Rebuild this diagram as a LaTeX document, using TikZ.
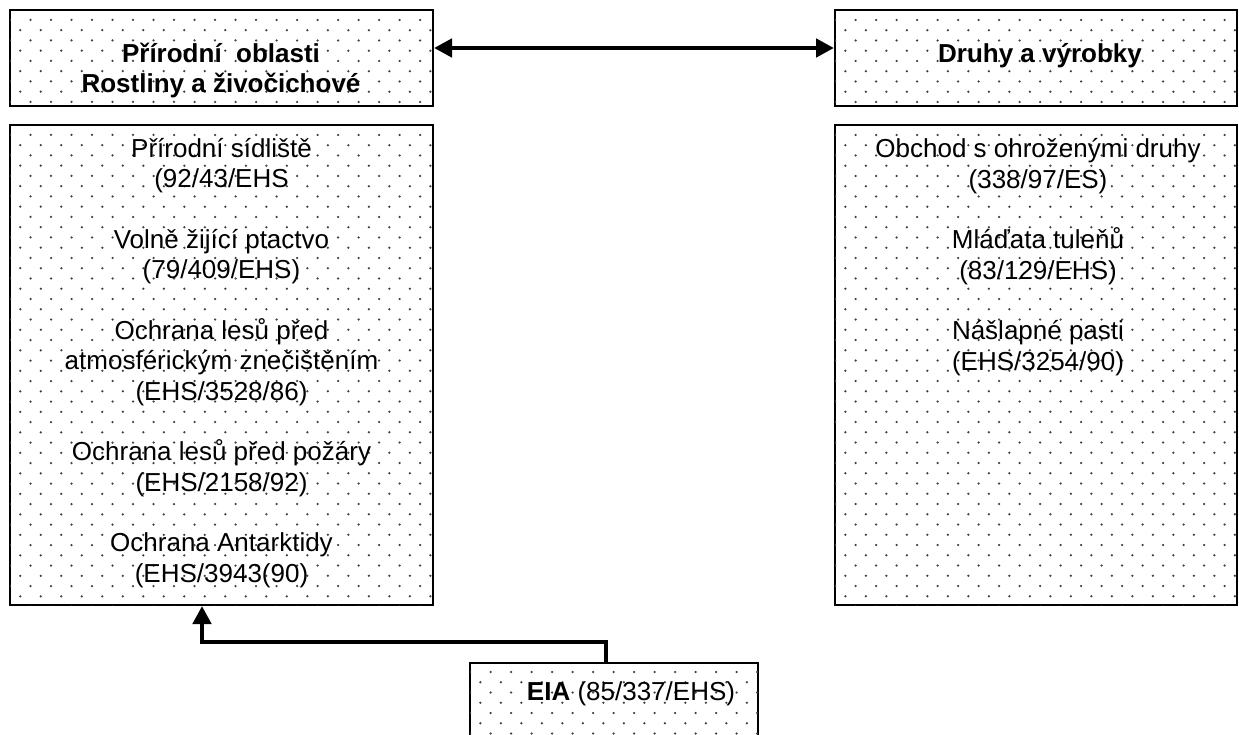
\documentclass[tikz,border=0pt]{standalone}
\usepackage{fontspec}
\setmainfont{Liberation Sans}
\usetikzlibrary{arrows.meta}

\definecolor{dotcol}{gray}{0.25}

\tikzset{
  frame/.style={draw=black, line width=2pt, inner sep=0pt, fill=white},
  link/.style={line width=4.5pt, -{Triangle[length=18pt,width=18pt]}},
  twoway/.style={line width=4.5pt, {Triangle[length=18pt,width=18pt]}-{Triangle[length=18pt,width=18pt]}},
  % multi-line texts are placed by the baseline of their last line
  body/.style={font=\fontsize{26}{30.5}\selectfont, align=center, inner sep=0pt, anchor=base},
  head/.style={font=\fontsize{26}{30}\selectfont\bfseries, align=center, inner sep=0pt, anchor=base},
}

% staggered dot raster inside a box: #1 = node name, #2..#5 = left, top, right, bottom
\newcommand\dotraster[5]{%
  \begin{scope}
    \clip ([shift={(1pt,-1pt)}]#1.north west) rectangle ([shift={(-1pt,1pt)}]#1.south east);
    \pgfmathtruncatemacro\nrows{(#5-#3)/10.25}%
    \pgfmathtruncatemacro\ncols{(#4-#2)/20.5}%
    \foreach \r in {0,...,\nrows}{%
      \foreach \c in {0,...,\ncols}{%
        \fill[dotcol] ({#2+mod(\r,2)*10.25+20.5*\c},{#3+10.25*\r}) circle (1.25pt);
      }%
    }%
  \end{scope}}

\begin{document}
\begin{tikzpicture}[x=1pt, y=-1pt]
  \clip (0,0) rectangle (1239,735);
  \fill[white] (0,0) rectangle (1239,735);

  % boxes
  \node[frame, minimum width=423pt, minimum height=96pt]  (tl)  at (221.5,58)  {};
  \node[frame, minimum width=402pt, minimum height=96pt]  (tr)  at (1036,58)   {};
  \node[frame, minimum width=423pt, minimum height=480pt] (bl)  at (221.5,365) {};
  \node[frame, minimum width=402pt, minimum height=480pt] (br)  at (1036,365)  {};
  \node[frame, minimum width=288pt, minimum height=84pt]  (eia) at (614,705)   {};

  % dotted fill
  \dotraster{tl}{10}{20}{440}{110}
  \dotraster{tr}{835}{20}{1240}{110}
  \dotraster{bl}{10}{135}{440}{610}
  \dotraster{br}{835}{135}{1240}{610}
  \dotraster{eia}{470}{672}{760}{750}

  % headings
  \node[head] (tltext) at (221,93) {Přírodní\ \ oblasti\\Rostliny a živočichové};
  \node[head] (trtext) at (1040,63) {Druhy a výrobky};

  % contents
  \node[body] (bltext) at (221.5,582) {%
    Přírodní sídliště\\(92/43/EHS\\[30pt]
    Volně žijící ptactvo\\(79/409/EHS)\\[30pt]
    Ochrana lesů před\\atmosférickým znečištěním\\(EHS/3528/86)\\[30pt]
    Ochrana lesů před požáry\\(EHS/2158/92)\\[30pt]
    Ochrana Antarktidy\\(EHS/3943(90)};
  \node[body] (brtext) at (1038,370) {%
    Obchod s ohroženými druhy\\(338/97/ES)\\[30pt]
    Mláďata tuleňů\\(83/129/EHS)\\[30pt]
    Nášlapné pasti\\(EHS/3254/90)};
  \node[body] (eiatext) at (631,700) {\textbf{EIA} (85/337/EHS)};

  % connectors
  \draw[twoway] ([yshift=10pt]tl.east) -- ([yshift=10pt]tr.west);
  \draw[link] ([xshift=-8pt]eia.north) -- ++(0,-20) -| ([xshift=-19.5pt]bl.south);
\end{tikzpicture}
\end{document}
